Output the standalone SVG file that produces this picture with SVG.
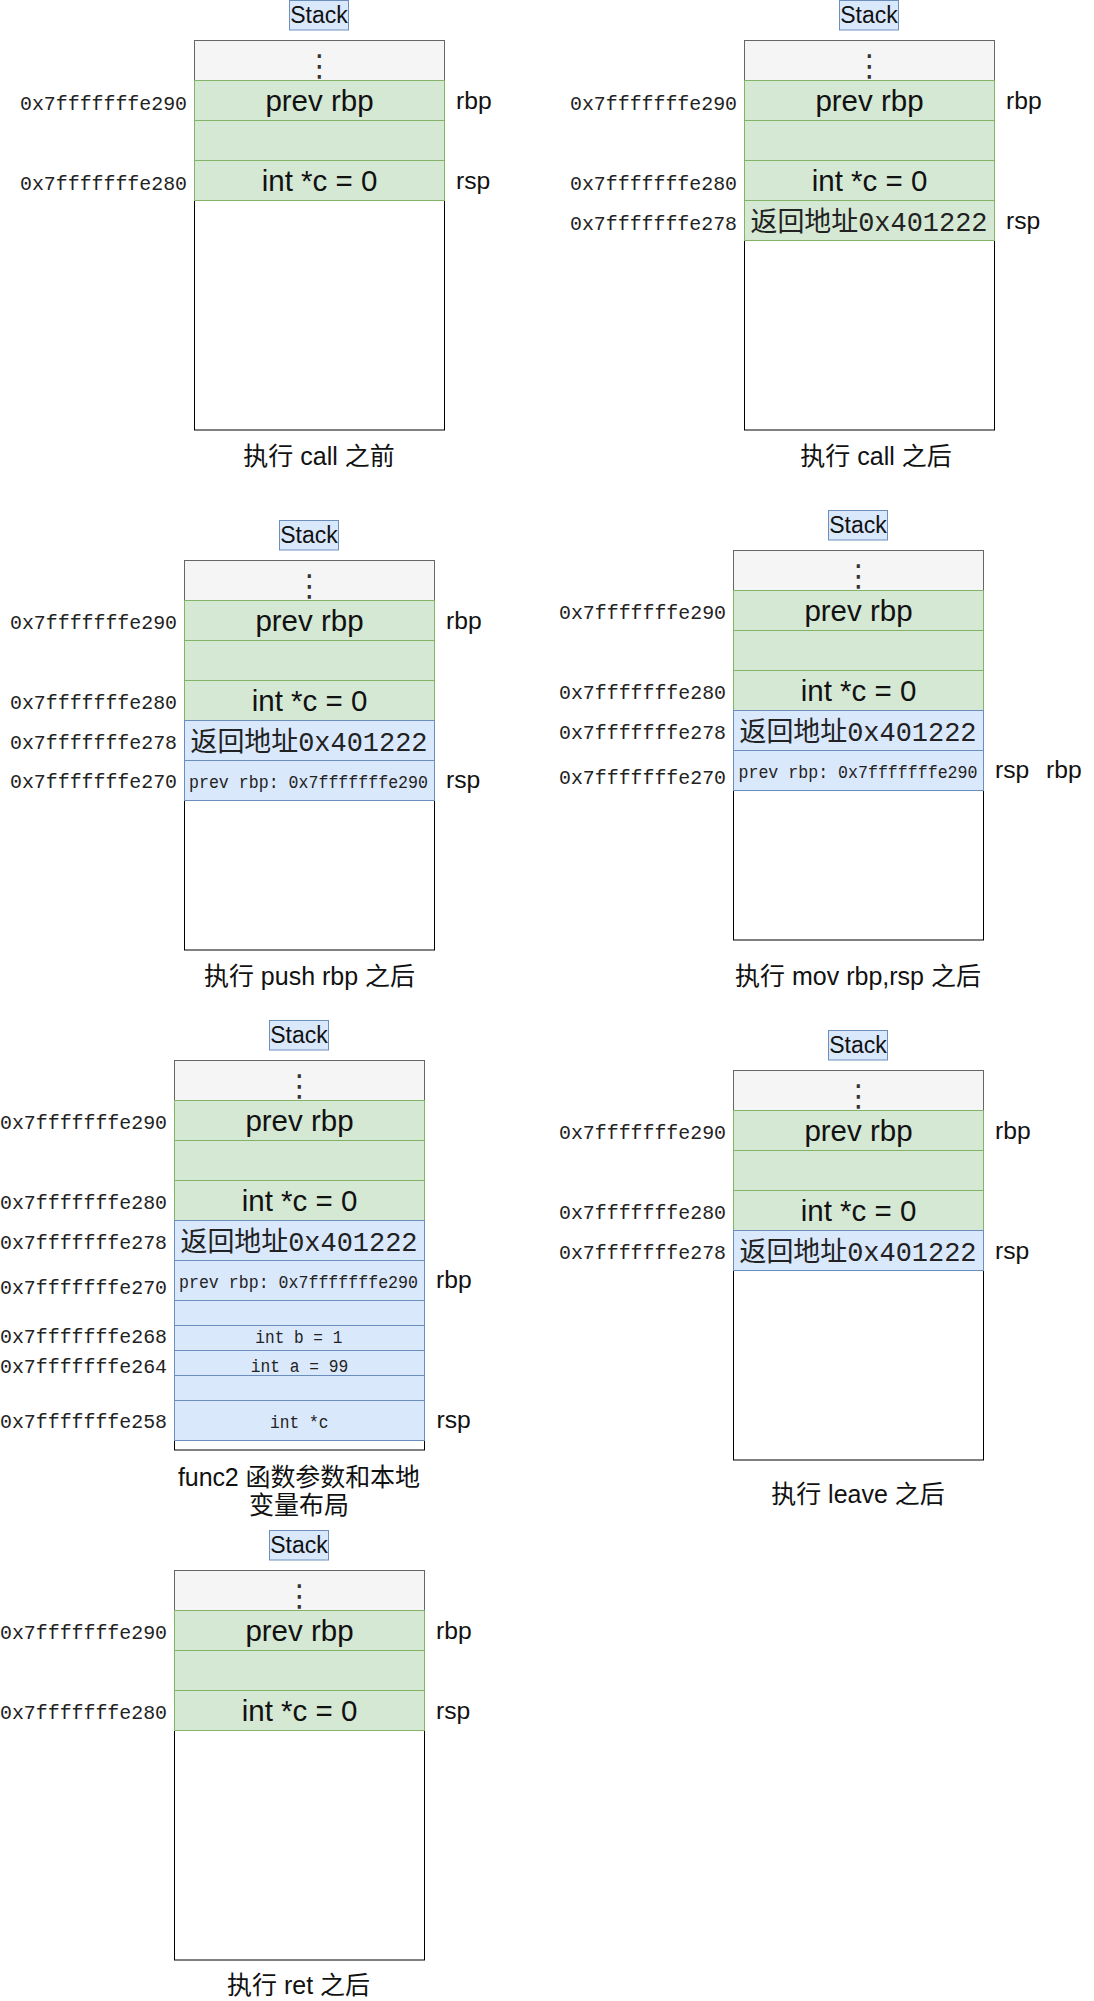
<svg xmlns="http://www.w3.org/2000/svg" width="1094" height="2001" viewBox="0 0 1094 2001">
<style>
.stackbox{fill:#dae8fc;stroke:#6c8ebf;stroke-width:1}
.outer{fill:#ffffff;stroke:#000000;stroke-width:1}
.gray{fill:#f5f5f5;stroke:#666666;stroke-width:1}
.green{fill:#d5e8d4;stroke:#82b366;stroke-width:1}
.blue{fill:#dae8fc;stroke:#6c8ebf;stroke-width:1}
text{fill:#111111}
.sans{font-family:"Liberation Sans",Arial,sans-serif}
.big{font-size:29.5px;text-anchor:middle}
.reg{font-size:24.7px}
.stk{font-size:23px;text-anchor:middle}
.dots{font-family:"DejaVu Sans",sans-serif;font-size:30px;text-anchor:middle;fill:#333333}
.addr{font-family:"Liberation Mono",monospace;font-size:21px;text-anchor:end;fill:#222222}
.cap{font-family:"Liberation Sans","Noto Sans CJK SC",sans-serif;font-size:25px;text-anchor:middle}
.ret{font-family:"Liberation Mono","Noto Sans CJK SC",monospace;font-size:27.5px;text-anchor:middle;fill:#222222}
.small{font-family:"Liberation Mono",monospace;font-size:18px;text-anchor:middle;fill:#222222}
</style>
<g id="connectors"/>

<!-- Panel 1 -->
<g id="panel1">
  <g id="p1-stack"><rect class="stackbox" x="289.5" y="0.5" width="59" height="29.5"/><text class="sans stk" x="319" y="22.5">Stack</text></g>
  <g id="p1-frame"><rect class="outer" x="194.5" y="40.5" width="250" height="389.5"/></g>
  <g id="p1-top"><rect class="gray" x="194.5" y="40.5" width="250" height="40"/><text class="dots" x="319.5" y="76">⋮</text></g>
  <g id="p1-prevrbp"><rect class="green" x="194.5" y="80.5" width="250" height="40"/><text class="sans big" x="319.5" y="110.5">prev rbp</text></g>
  <g id="p1-blank"><rect class="green" x="194.5" y="120.5" width="250" height="40"/></g>
  <g id="p1-c"><rect class="green" x="194.5" y="160.5" width="250" height="40"/><text class="sans big" x="319.5" y="190.5">int *c = 0</text></g>
  <g id="p1-addr">
    <text class="addr" x="187" y="110" textLength="167" lengthAdjust="spacingAndGlyphs">0x7fffffffe290</text>
    <text class="addr" x="187" y="190" textLength="167" lengthAdjust="spacingAndGlyphs">0x7fffffffe280</text>
  </g>
  <g id="p1-regs"><text class="sans reg" x="456" y="109">rbp</text><text class="sans reg" x="456" y="189">rsp</text></g>
  <text class="cap" x="319" y="465">执行 call 之前</text>
</g>

<!-- Panel 2 -->
<g id="panel2">
  <g id="p2-stack"><rect class="stackbox" x="839.5" y="0.5" width="59" height="29.5"/><text class="sans stk" x="869" y="22.5">Stack</text></g>
  <g id="p2-frame"><rect class="outer" x="744.5" y="40.5" width="250" height="389.5"/></g>
  <g id="p2-top"><rect class="gray" x="744.5" y="40.5" width="250" height="40"/><text class="dots" x="869.5" y="76">⋮</text></g>
  <g id="p2-prevrbp"><rect class="green" x="744.5" y="80.5" width="250" height="40"/><text class="sans big" x="869.5" y="110.5">prev rbp</text></g>
  <g id="p2-blank"><rect class="green" x="744.5" y="120.5" width="250" height="40"/></g>
  <g id="p2-c"><rect class="green" x="744.5" y="160.5" width="250" height="40"/><text class="sans big" x="869.5" y="190.5">int *c = 0</text></g>
  <g id="p2-ret"><rect class="green" x="744.5" y="200.5" width="250" height="40"/><text class="ret" x="869" y="231" textLength="237" lengthAdjust="spacingAndGlyphs">返回地址0x401222</text></g>
  <g id="p2-addr">
    <text class="addr" x="737" y="110" textLength="167" lengthAdjust="spacingAndGlyphs">0x7fffffffe290</text>
    <text class="addr" x="737" y="190" textLength="167" lengthAdjust="spacingAndGlyphs">0x7fffffffe280</text>
    <text class="addr" x="737" y="230" textLength="167" lengthAdjust="spacingAndGlyphs">0x7fffffffe278</text>
  </g>
  <g id="p2-regs"><text class="sans reg" x="1006" y="109">rbp</text><text class="sans reg" x="1006" y="229">rsp</text></g>
  <text class="cap" x="876" y="465">执行 call 之后</text>
</g>

<!-- Panel 3 -->
<g id="panel3">
  <g id="p3-stack"><rect class="stackbox" x="279.5" y="520.5" width="59" height="29.5"/><text class="sans stk" x="309" y="542.5">Stack</text></g>
  <g id="p3-frame"><rect class="outer" x="184.5" y="560.5" width="250" height="389.5"/></g>
  <g id="p3-top"><rect class="gray" x="184.5" y="560.5" width="250" height="40"/><text class="dots" x="309.5" y="596">⋮</text></g>
  <g id="p3-prevrbp"><rect class="green" x="184.5" y="600.5" width="250" height="40"/><text class="sans big" x="309.5" y="630.5">prev rbp</text></g>
  <g id="p3-blank"><rect class="green" x="184.5" y="640.5" width="250" height="40"/></g>
  <g id="p3-c"><rect class="green" x="184.5" y="680.5" width="250" height="40"/><text class="sans big" x="309.5" y="710.5">int *c = 0</text></g>
  <g id="p3-ret"><rect class="blue" x="184.5" y="720.5" width="250" height="40"/><text class="ret" x="309" y="751" textLength="237" lengthAdjust="spacingAndGlyphs">返回地址0x401222</text></g>
  <g id="p3-saved"><rect class="blue" x="184.5" y="760.5" width="250" height="40"/><text class="small" x="308.5" y="788" textLength="239" lengthAdjust="spacingAndGlyphs">prev rbp: 0x7fffffffe290</text></g>
  <g id="p3-addr">
    <text class="addr" x="177" y="629" textLength="167" lengthAdjust="spacingAndGlyphs">0x7fffffffe290</text>
    <text class="addr" x="177" y="709" textLength="167" lengthAdjust="spacingAndGlyphs">0x7fffffffe280</text>
    <text class="addr" x="177" y="749" textLength="167" lengthAdjust="spacingAndGlyphs">0x7fffffffe278</text>
    <text class="addr" x="177" y="788" textLength="167" lengthAdjust="spacingAndGlyphs">0x7fffffffe270</text>
  </g>
  <g id="p3-regs"><text class="sans reg" x="446" y="628.5">rbp</text><text class="sans reg" x="446" y="788.3">rsp</text></g>
  <text class="cap" x="309.5" y="985">执行 push rbp 之后</text>
</g>

<!-- Panel 4 -->
<g id="panel4">
  <g id="p4-stack"><rect class="stackbox" x="828.5" y="510.5" width="59" height="29.5"/><text class="sans stk" x="858" y="532.5">Stack</text></g>
  <g id="p4-frame"><rect class="outer" x="733.5" y="550.5" width="250" height="389.5"/></g>
  <g id="p4-top"><rect class="gray" x="733.5" y="550.5" width="250" height="40"/><text class="dots" x="858.5" y="586">⋮</text></g>
  <g id="p4-prevrbp"><rect class="green" x="733.5" y="590.5" width="250" height="40"/><text class="sans big" x="858.5" y="620.5">prev rbp</text></g>
  <g id="p4-blank"><rect class="green" x="733.5" y="630.5" width="250" height="40"/></g>
  <g id="p4-c"><rect class="green" x="733.5" y="670.5" width="250" height="40"/><text class="sans big" x="858.5" y="700.5">int *c = 0</text></g>
  <g id="p4-ret"><rect class="blue" x="733.5" y="710.5" width="250" height="40"/><text class="ret" x="858" y="741" textLength="237" lengthAdjust="spacingAndGlyphs">返回地址0x401222</text></g>
  <g id="p4-saved"><rect class="blue" x="733.5" y="750.5" width="250" height="40"/><text class="small" x="858" y="778" textLength="239" lengthAdjust="spacingAndGlyphs">prev rbp: 0x7fffffffe290</text></g>
  <g id="p4-addr">
    <text class="addr" x="726" y="619" textLength="167" lengthAdjust="spacingAndGlyphs">0x7fffffffe290</text>
    <text class="addr" x="726" y="699" textLength="167" lengthAdjust="spacingAndGlyphs">0x7fffffffe280</text>
    <text class="addr" x="726" y="739" textLength="167" lengthAdjust="spacingAndGlyphs">0x7fffffffe278</text>
    <text class="addr" x="726" y="784.3" textLength="167" lengthAdjust="spacingAndGlyphs">0x7fffffffe270</text>
  </g>
  <g id="p4-regs"><text class="sans reg" x="995" y="778.3">rsp</text><text class="sans reg" x="1046" y="778.3">rbp</text></g>
  <text class="cap" x="858" y="985">执行 mov rbp,rsp 之后</text>
</g>

<!-- Panel 5 -->
<g id="panel5">
  <g id="p5-stack"><rect class="stackbox" x="269.5" y="1020.5" width="59" height="29.5"/><text class="sans stk" x="299" y="1042.5">Stack</text></g>
  <g id="p5-frame"><rect class="outer" x="174.5" y="1060.5" width="250" height="389.5"/></g>
  <g id="p5-top"><rect class="gray" x="174.5" y="1060.5" width="250" height="40"/><text class="dots" x="299.5" y="1096">⋮</text></g>
  <g id="p5-prevrbp"><rect class="green" x="174.5" y="1100.5" width="250" height="40"/><text class="sans big" x="299.5" y="1130.5">prev rbp</text></g>
  <g id="p5-blank"><rect class="green" x="174.5" y="1140.5" width="250" height="40"/></g>
  <g id="p5-c"><rect class="green" x="174.5" y="1180.5" width="250" height="40"/><text class="sans big" x="299.5" y="1210.5">int *c = 0</text></g>
  <g id="p5-ret"><rect class="blue" x="174.5" y="1220.5" width="250" height="40"/><text class="ret" x="299" y="1251" textLength="237" lengthAdjust="spacingAndGlyphs">返回地址0x401222</text></g>
  <g id="p5-saved"><rect class="blue" x="174.5" y="1260.5" width="250" height="40"/><text class="small" x="298.5" y="1288" textLength="239" lengthAdjust="spacingAndGlyphs">prev rbp: 0x7fffffffe290</text></g>
  <g id="p5-pad1"><rect class="blue" x="174.5" y="1300.5" width="250" height="25"/></g>
  <g id="p5-b"><rect class="blue" x="174.5" y="1325.5" width="250" height="25"/><text class="small" x="298.8" y="1343.3" textLength="87" lengthAdjust="spacingAndGlyphs">int b = 1</text></g>
  <g id="p5-a"><rect class="blue" x="174.5" y="1350.5" width="250" height="25"/><text class="small" x="299.5" y="1371.7" textLength="97.6" lengthAdjust="spacingAndGlyphs">int a = 99</text></g>
  <g id="p5-pad2"><rect class="blue" x="174.5" y="1375.5" width="250" height="25"/></g>
  <g id="p5-cp"><rect class="blue" x="174.5" y="1400.5" width="250" height="40"/><text class="small" x="299.2" y="1428.3" textLength="58.3" lengthAdjust="spacingAndGlyphs">int *c</text></g>
  <g id="p5-addr">
    <text class="addr" x="167" y="1129" textLength="167" lengthAdjust="spacingAndGlyphs">0x7fffffffe290</text>
    <text class="addr" x="167" y="1209" textLength="167" lengthAdjust="spacingAndGlyphs">0x7fffffffe280</text>
    <text class="addr" x="167" y="1249" textLength="167" lengthAdjust="spacingAndGlyphs">0x7fffffffe278</text>
    <text class="addr" x="167" y="1294" textLength="167" lengthAdjust="spacingAndGlyphs">0x7fffffffe270</text>
    <text class="addr" x="167" y="1343.3" textLength="167" lengthAdjust="spacingAndGlyphs">0x7fffffffe268</text>
    <text class="addr" x="167" y="1373.3" textLength="167" lengthAdjust="spacingAndGlyphs">0x7fffffffe264</text>
    <text class="addr" x="167" y="1428.3" textLength="167" lengthAdjust="spacingAndGlyphs">0x7fffffffe258</text>
  </g>
  <g id="p5-regs"><text class="sans reg" x="436" y="1288.3">rbp</text><text class="sans reg" x="436.5" y="1428.3">rsp</text></g>
  <text class="cap" x="299" y="1486" font-size="26" textLength="242" lengthAdjust="spacing">func2 函数参数和本地</text>
  <text class="cap" x="299" y="1514" font-size="24.5">变量布局</text>
</g>

<!-- Panel 6 -->
<g id="panel6">
  <g id="p6-stack"><rect class="stackbox" x="828.5" y="1030.5" width="59" height="29.5"/><text class="sans stk" x="858" y="1052.5">Stack</text></g>
  <g id="p6-frame"><rect class="outer" x="733.5" y="1070.5" width="250" height="389.5"/></g>
  <g id="p6-top"><rect class="gray" x="733.5" y="1070.5" width="250" height="40"/><text class="dots" x="858.5" y="1106">⋮</text></g>
  <g id="p6-prevrbp"><rect class="green" x="733.5" y="1110.5" width="250" height="40"/><text class="sans big" x="858.5" y="1140.5">prev rbp</text></g>
  <g id="p6-blank"><rect class="green" x="733.5" y="1150.5" width="250" height="40"/></g>
  <g id="p6-c"><rect class="green" x="733.5" y="1190.5" width="250" height="40"/><text class="sans big" x="858.5" y="1220.5">int *c = 0</text></g>
  <g id="p6-ret"><rect class="blue" x="733.5" y="1230.5" width="250" height="40"/><text class="ret" x="858" y="1261" textLength="237" lengthAdjust="spacingAndGlyphs">返回地址0x401222</text></g>
  <g id="p6-addr">
    <text class="addr" x="726" y="1139" textLength="167" lengthAdjust="spacingAndGlyphs">0x7fffffffe290</text>
    <text class="addr" x="726" y="1219" textLength="167" lengthAdjust="spacingAndGlyphs">0x7fffffffe280</text>
    <text class="addr" x="726" y="1259" textLength="167" lengthAdjust="spacingAndGlyphs">0x7fffffffe278</text>
  </g>
  <g id="p6-regs"><text class="sans reg" x="995" y="1138.5">rbp</text><text class="sans reg" x="995" y="1258.5">rsp</text></g>
  <text class="cap" x="858" y="1503">执行 leave 之后</text>
</g>

<!-- Panel 7 -->
<g id="panel7">
  <g id="p7-stack"><rect class="stackbox" x="269.5" y="1530.5" width="59" height="29.5"/><text class="sans stk" x="299" y="1552.5">Stack</text></g>
  <g id="p7-frame"><rect class="outer" x="174.5" y="1570.5" width="250" height="389.5"/></g>
  <g id="p7-top"><rect class="gray" x="174.5" y="1570.5" width="250" height="40"/><text class="dots" x="299.5" y="1606">⋮</text></g>
  <g id="p7-prevrbp"><rect class="green" x="174.5" y="1610.5" width="250" height="40"/><text class="sans big" x="299.5" y="1640.5">prev rbp</text></g>
  <g id="p7-blank"><rect class="green" x="174.5" y="1650.5" width="250" height="40"/></g>
  <g id="p7-c"><rect class="green" x="174.5" y="1690.5" width="250" height="40"/><text class="sans big" x="299.5" y="1720.5">int *c = 0</text></g>
  <g id="p7-addr">
    <text class="addr" x="167" y="1639" textLength="167" lengthAdjust="spacingAndGlyphs">0x7fffffffe290</text>
    <text class="addr" x="167" y="1719" textLength="167" lengthAdjust="spacingAndGlyphs">0x7fffffffe280</text>
  </g>
  <g id="p7-regs"><text class="sans reg" x="436" y="1638.5">rbp</text><text class="sans reg" x="436" y="1718.5">rsp</text></g>
  <text class="cap" x="298.5" y="1994">执行 ret 之后</text>
</g>
</svg>
